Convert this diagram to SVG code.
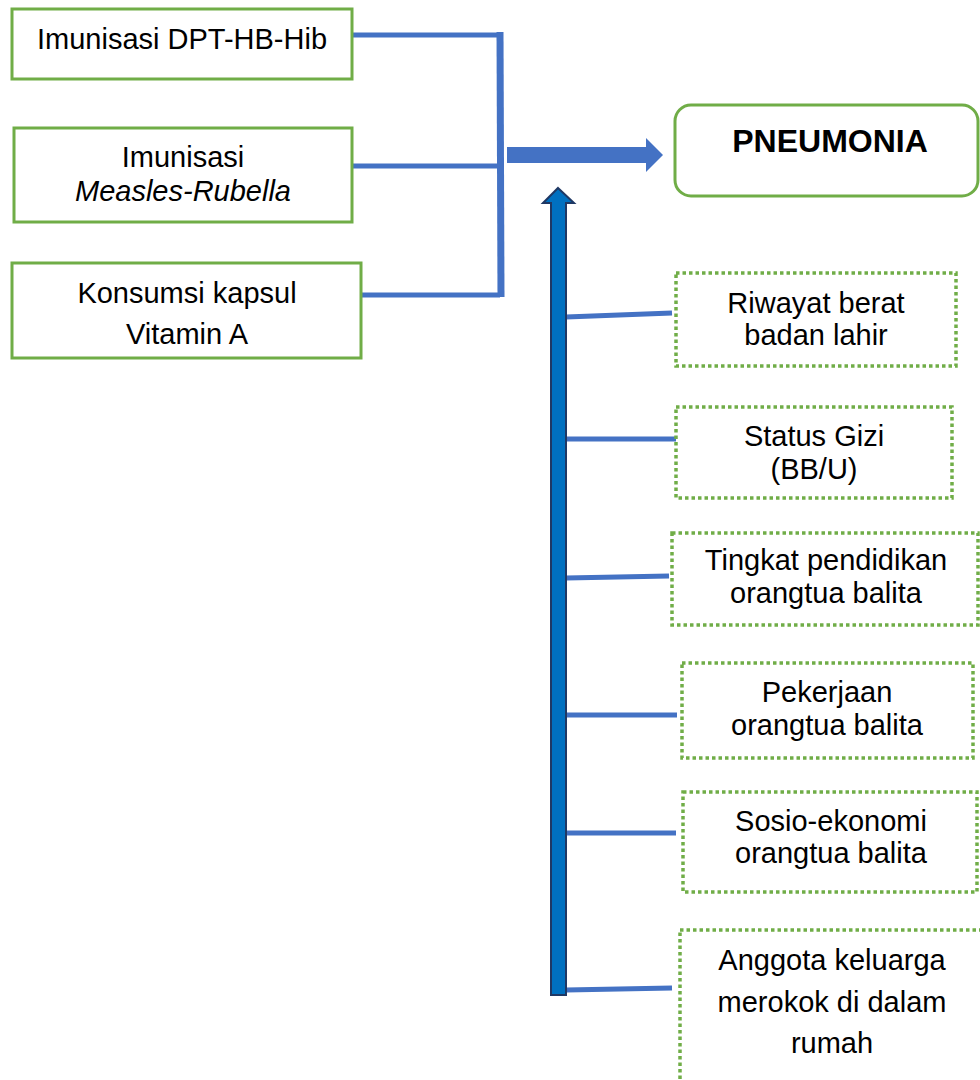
<svg xmlns="http://www.w3.org/2000/svg" width="980" height="1080" viewBox="0 0 980 1080">
<style>
.t{font-family:"Liberation Sans",Arial,sans-serif;font-size:29px;fill:#000;text-anchor:middle}
.b{font-weight:bold;font-size:32px}
.solid{fill:#fff;stroke:#70AD47;stroke-width:3}
.dot{fill:#fff;stroke:#70AD47;stroke-width:3.5;stroke-dasharray:3.5 3}
.ln{stroke:#4472C4;stroke-width:5;fill:none}
</style>
<rect width="980" height="1080" fill="#fff"/>
<g id="connectors">
<line class="ln" x1="352" y1="35" x2="500" y2="35"/>
<line class="ln" x1="352" y1="166" x2="500" y2="166"/>
<line class="ln" x1="361" y1="295" x2="500" y2="295"/>
<line x1="500" y1="32" x2="501" y2="297" stroke="#4472C4" stroke-width="7"/>
<polygon points="507,147 646,147 646,138 663,155 646,172 646,163 507,163" fill="#4472C4"/>
<line class="ln" x1="566" y1="317" x2="672" y2="313"/>
<line class="ln" x1="566" y1="439" x2="677" y2="439"/>
<line class="ln" x1="566" y1="578" x2="669" y2="576"/>
<line class="ln" x1="566" y1="715" x2="677" y2="715"/>
<line class="ln" x1="566" y1="833" x2="676" y2="833"/>
<line class="ln" x1="566" y1="990" x2="672" y2="988"/>
<polygon points="558,188 574,203 566,203 566,995 551,995 551,203 543,203" fill="#0070C0" stroke="#1F3864" stroke-width="2" stroke-linejoin="miter"/>
</g>
<g id="n1"><rect class="solid" x="12" y="9" width="340" height="70"/><text class="t" x="182" y="49">Imunisasi DPT-HB-Hib</text></g>
<g id="n2"><rect class="solid" x="14" y="128" width="338" height="94"/><text class="t" x="183" y="167">Imunisasi</text><text class="t" x="183" y="201" font-style="italic">Measles-Rubella</text></g>
<g id="n3"><rect class="solid" x="12" y="263" width="349" height="95"/><text class="t" x="187" y="303">Konsumsi kapsul</text><text class="t" x="187" y="344">Vitamin A</text></g>
<g id="pneumonia"><rect class="solid" x="675" y="105" width="303" height="91" rx="16"/><text class="t b" x="830" y="152">PNEUMONIA</text></g>
<g id="f1"><rect class="dot" x="676" y="273" width="280" height="93"/><text class="t" x="816" y="313">Riwayat berat</text><text class="t" x="816" y="345">badan lahir</text></g>
<g id="f2"><rect class="dot" x="676" y="407" width="276" height="91"/><text class="t" x="814" y="446">Status Gizi</text><text class="t" x="814" y="479">(BB/U)</text></g>
<g id="f3"><rect class="dot" x="672" y="533" width="306" height="92"/><text class="t" x="826" y="570">Tingkat pendidikan</text><text class="t" x="826" y="603">orangtua balita</text></g>
<g id="f4"><rect class="dot" x="682" y="663" width="291" height="95"/><text class="t" x="827" y="702">Pekerjaan</text><text class="t" x="827" y="735">orangtua balita</text></g>
<g id="f5"><rect class="dot" x="683" y="792" width="294" height="100"/><text class="t" x="831" y="831">Sosio-ekonomi</text><text class="t" x="831" y="863">orangtua balita</text></g>
<g id="f6"><rect class="dot" x="680" y="930" width="306" height="165"/><text class="t" x="832" y="970">Anggota keluarga</text><text class="t" x="832" y="1012">merokok di dalam</text><text class="t" x="832" y="1053">rumah</text></g>
</svg>
